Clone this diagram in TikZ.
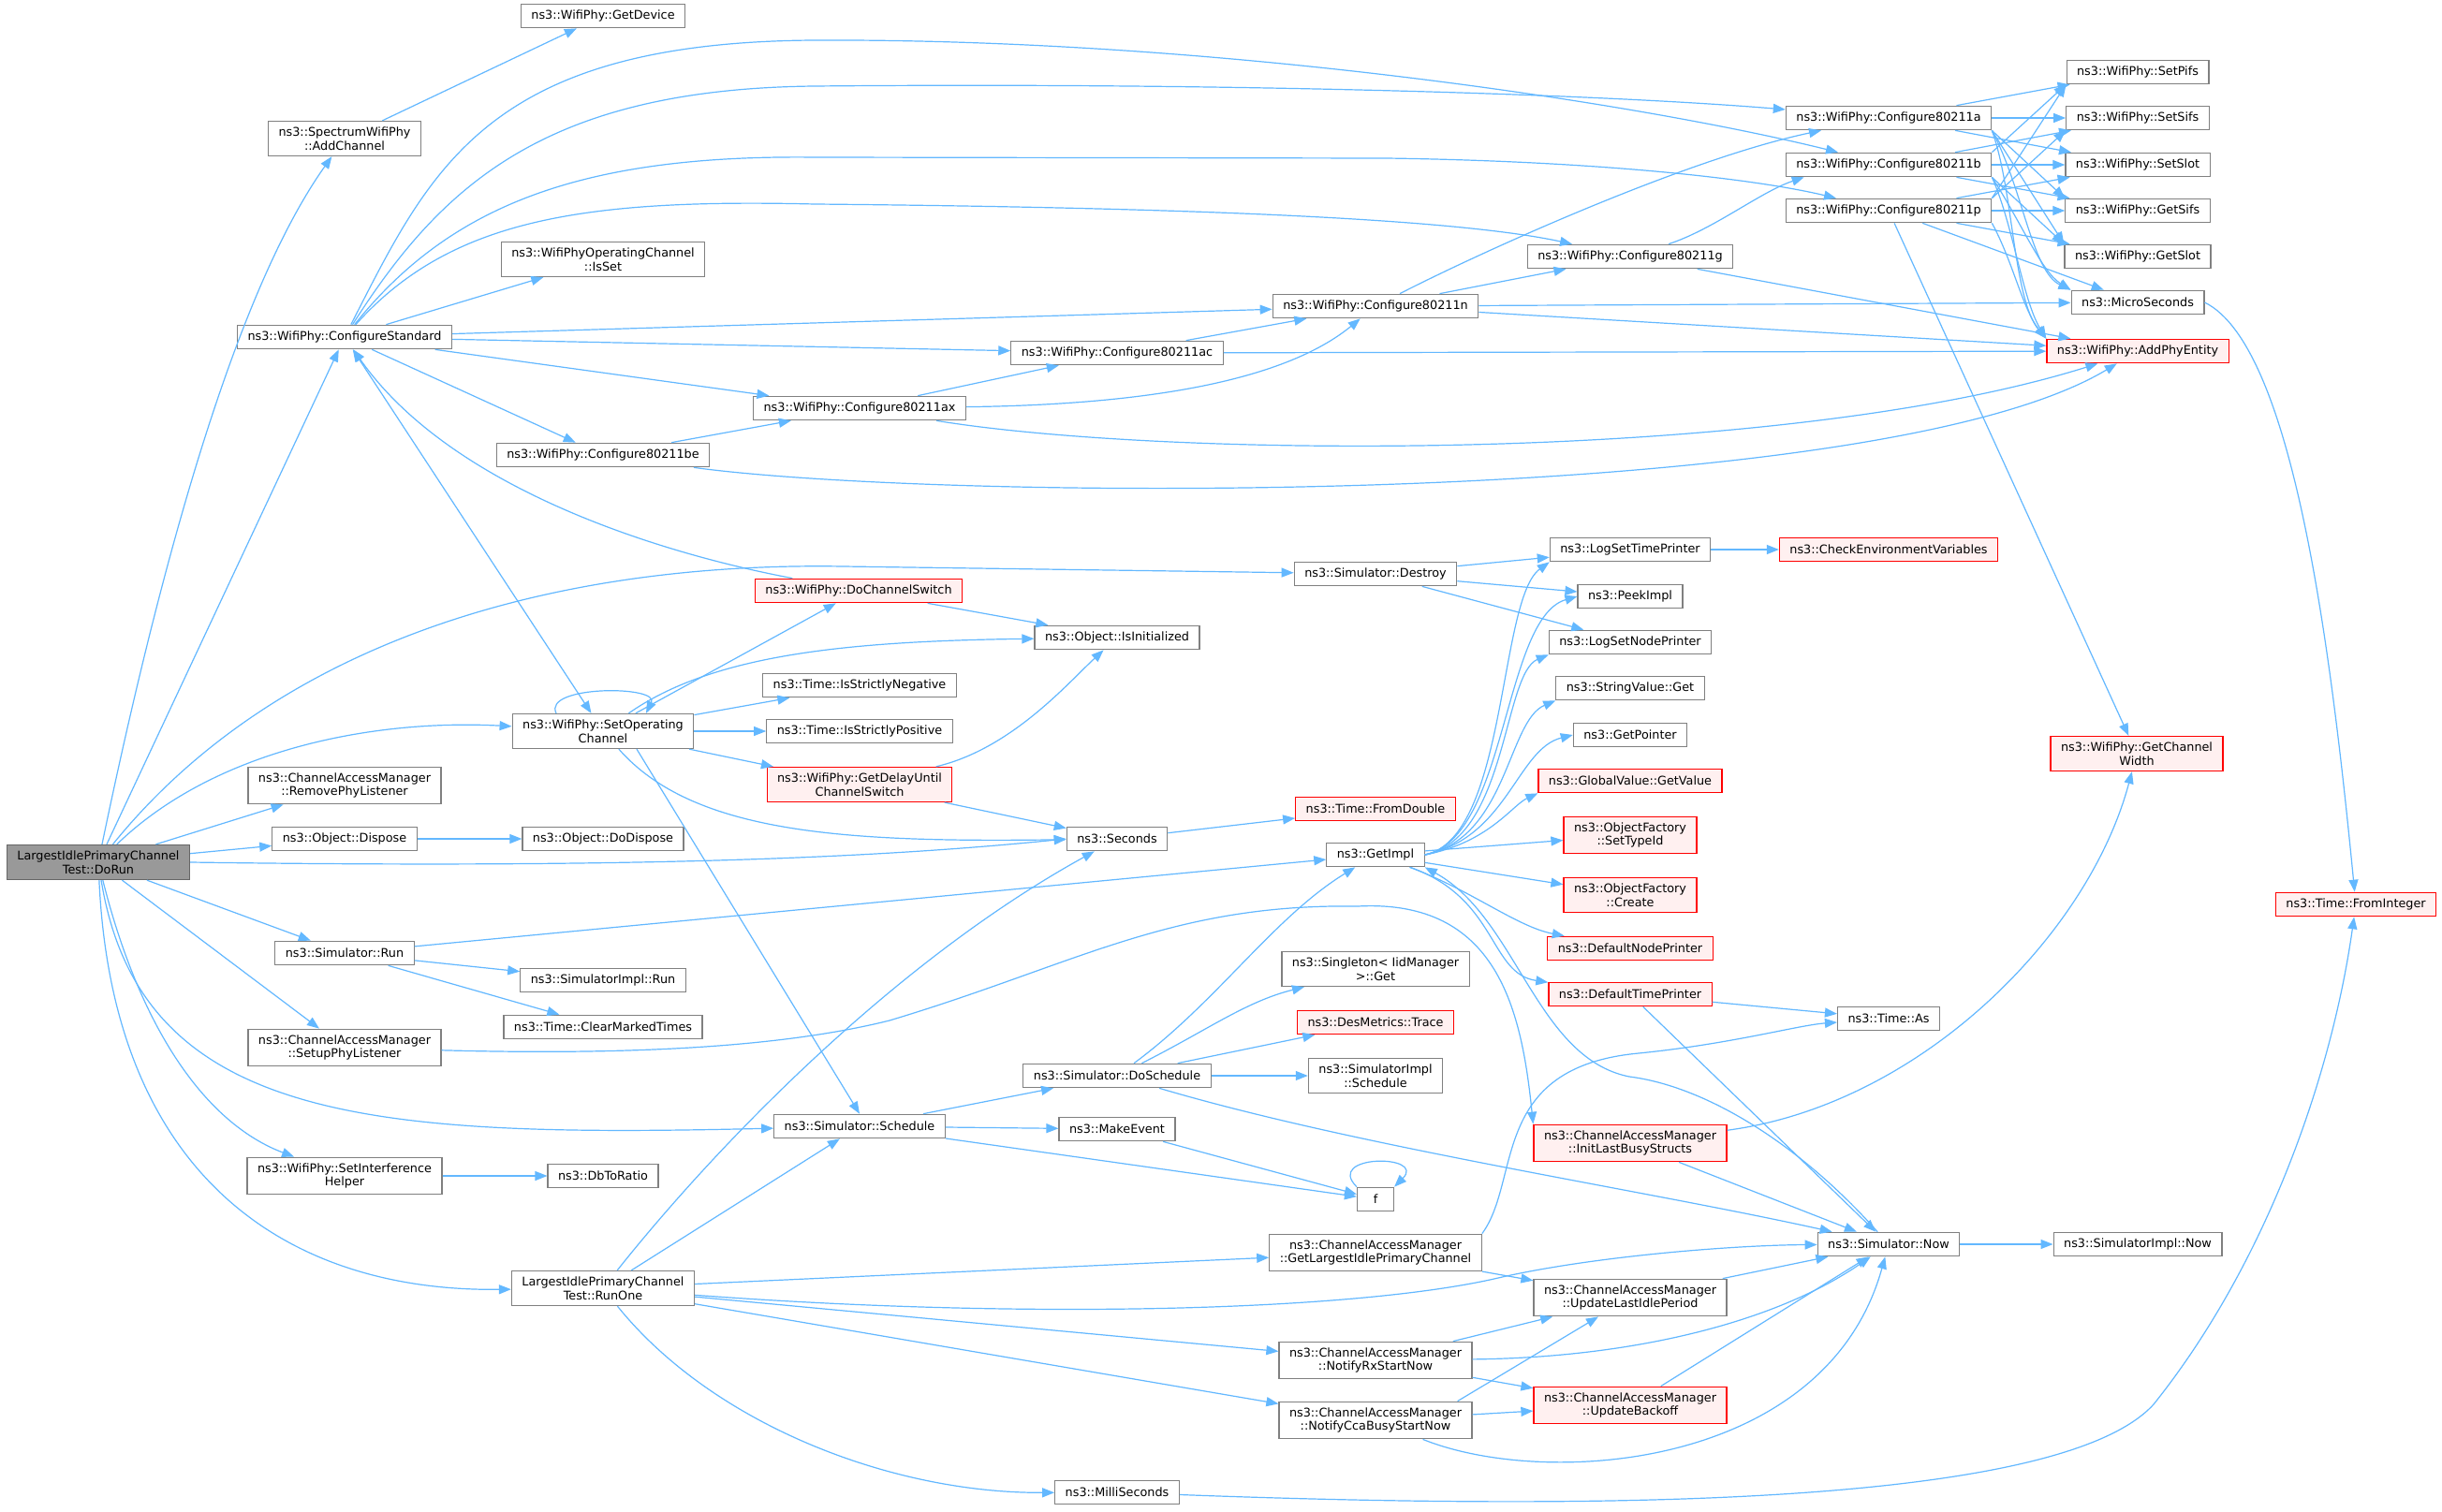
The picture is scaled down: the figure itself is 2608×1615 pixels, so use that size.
\documentclass[tikz,border=0pt]{standalone}
\usepackage{fontspec}
\newfontfamily\dxfont{DejaVu Sans}
\usetikzlibrary{arrows.meta}
\definecolor{callblue}{HTML}{63B8FF}
\definecolor{fnline}{HTML}{808080}
\definecolor{redfill}{HTML}{FFF0F0}
\definecolor{rootfill}{HTML}{999999}
\definecolor{rootline}{HTML}{666666}

\begin{document}
\begin{tikzpicture}[x=0.5pt,y=-0.5pt,
	fn/.style={draw=fnline,fill=white,line width=0.6pt,font={\dxfont\fontsize{6.4}{7.4}\selectfont},align=center,inner xsep=5.5pt,inner ysep=3.1pt,minimum height=12.75pt},
	fnred/.style={fn,draw=red,fill=redfill},
	fnroot/.style={fn,draw=rootline,fill=rootfill},
	call/.style={draw=callblue,line width=0.6pt,-{Triangle[length=6.5pt,width=5pt]}},
	twoway/.style={call,{Triangle[length=6.5pt,width=5pt]}-{Triangle[length=6.5pt,width=5pt]}}]
		\fill[white] (0,0) rectangle (2608,1615);
		\useasboundingbox (0,0) rectangle (2608,1615);
		% callers on the left
		\node[fnroot] (dorun) at (105,921) {LargestIdlePrimaryChannel\\Test::DoRun};
		\node[fn] (addch) at (368,148) {ns3::SpectrumWifiPhy\\::AddChannel};
		\node[fn] (cfgstd) at (368,360) {ns3::WifiPhy::ConfigureStandard};
		\node[fn] (rmlist) at (368,839) {ns3::ChannelAccessManager\\::RemovePhyListener};
		\node[fn] (dispose) at (368,896) {ns3::Object::Dispose};
		\node[fn] (simrun) at (368,1018) {ns3::Simulator::Run};
		\node[fn] (setuplist) at (368,1119) {ns3::ChannelAccessManager\\::SetupPhyListener};
		\node[fn] (setintf) at (368,1256) {ns3::WifiPhy::SetInterference\\Helper};
		\node[fn] (getdev) at (644,17) {ns3::WifiPhy::GetDevice};
		\node[fn] (isset) at (644,277) {ns3::WifiPhyOperatingChannel\\::IsSet};
		\node[fn] (c11be) at (644,486) {ns3::WifiPhy::Configure80211be};
		\node[fn] (setop) at (644,781) {ns3::WifiPhy::SetOperating\\Channel};
		\node[fn] (dodispose) at (644,896) {ns3::Object::DoDispose};
		\node[fn] (implrun) at (644,1047) {ns3::SimulatorImpl::Run};
		\node[fn] (clrmark) at (644,1097) {ns3::Time::ClearMarkedTimes};
		\node[fn] (dbratio) at (644,1256) {ns3::DbToRatio};
		\node[fn] (runone) at (644,1376) {LargestIdlePrimaryChannel\\Test::RunOne};
		% middle
		\node[fn] (c11ax) at (918,436) {ns3::WifiPhy::Configure80211ax};
		\node[fnred] (dochsw) at (917,631) {ns3::WifiPhy::DoChannelSwitch};
		\node[fn] (isneg) at (918,732) {ns3::Time::IsStrictlyNegative};
		\node[fn] (ispos) at (918,781) {ns3::Time::IsStrictlyPositive};
		\node[fnred] (delay) at (918,838) {ns3::WifiPhy::GetDelayUntil\\ChannelSwitch};
		\node[fn] (sched) at (918,1203) {ns3::Simulator::Schedule};
		\node[fn] (c11ac) at (1193,377) {ns3::WifiPhy::Configure80211ac};
		\node[fn] (isinit) at (1193,681) {ns3::Object::IsInitialized};
		\node[fn] (seconds) at (1193,896) {ns3::Seconds};
		\node[fn] (dosched) at (1193,1149) {ns3::Simulator::DoSchedule};
		\node[fn] (mkevent) at (1193,1206) {ns3::MakeEvent};
		\node[fn] (millisec) at (1193,1594) {ns3::MilliSeconds};
		\node[fn] (c11n) at (1469,327) {ns3::WifiPhy::Configure80211n};
		\node[fn] (destroy) at (1469,613) {ns3::Simulator::Destroy};
		\node[fnred] (fromdbl) at (1469,864) {ns3::Time::FromDouble};
		\node[fn] (getimpl) at (1469,913) {ns3::GetImpl};
		\node[fn] (singleton) at (1469,1035) {ns3::Singleton< IidManager\\>::Get};
		\node[fnred] (trace) at (1469,1092) {ns3::DesMetrics::Trace};
		\node[fn] (implsched) at (1469,1149) {ns3::SimulatorImpl\\::Schedule};
		\node[fn,minimum width=19.5pt] (fcall) at (1469,1281) {f};
		\node[fn] (largest) at (1469,1338) {ns3::ChannelAccessManager\\::GetLargestIdlePrimaryChannel};
		\node[fn] (notifyrx) at (1469,1453) {ns3::ChannelAccessManager\\::NotifyRxStartNow};
		\node[fn] (notifycca) at (1469,1517) {ns3::ChannelAccessManager\\::NotifyCcaBusyStartNow};
		% right
		\node[fn] (c11g) at (1741,274) {ns3::WifiPhy::Configure80211g};
		\node[fn] (logtime) at (1741,587) {ns3::LogSetTimePrinter};
		\node[fn] (peek) at (1741,637) {ns3::PeekImpl};
		\node[fn] (lognode) at (1741,686) {ns3::LogSetNodePrinter};
		\node[fn] (strget) at (1741,735) {ns3::StringValue::Get};
		\node[fn] (getptr) at (1741,785) {ns3::GetPointer};
		\node[fnred] (globval) at (1741,834) {ns3::GlobalValue::GetValue};
		\node[fnred] (settype) at (1741,892) {ns3::ObjectFactory\\::SetTypeId};
		\node[fnred] (create) at (1741,956) {ns3::ObjectFactory\\::Create};
		\node[fnred] (defnode) at (1741,1013) {ns3::DefaultNodePrinter};
		\node[fnred] (deftime) at (1741,1062) {ns3::DefaultTimePrinter};
		\node[fnred] (initbusy) at (1741,1221) {ns3::ChannelAccessManager\\::InitLastBusyStructs};
		\node[fn] (updidle) at (1741,1386) {ns3::ChannelAccessManager\\::UpdateLastIdlePeriod};
		\node[fnred] (updbackoff) at (1741,1501) {ns3::ChannelAccessManager\\::UpdateBackoff};
		\node[fn] (c11a) at (2017,126) {ns3::WifiPhy::Configure80211a};
		\node[fn] (c11b) at (2017,176) {ns3::WifiPhy::Configure80211b};
		\node[fn] (c11p) at (2017,225) {ns3::WifiPhy::Configure80211p};
		\node[fnred] (checkenv) at (2017,587) {ns3::CheckEnvironmentVariables};
		\node[fn] (timeas) at (2017,1088) {ns3::Time::As};
		\node[fn] (simnow) at (2017,1329) {ns3::Simulator::Now};
		\node[fn] (setpifs) at (2283,77) {ns3::WifiPhy::SetPifs};
		\node[fn] (setsifs) at (2283,126) {ns3::WifiPhy::SetSifs};
		\node[fn] (setslot) at (2283,176) {ns3::WifiPhy::SetSlot};
		\node[fn] (getsifs) at (2283,225) {ns3::WifiPhy::GetSifs};
		\node[fn] (getslot) at (2283,274) {ns3::WifiPhy::GetSlot};
		\node[fn] (microsec) at (2283,323) {ns3::MicroSeconds};
		\node[fnred] (addphy) at (2283,375) {ns3::WifiPhy::AddPhyEntity};
		\node[fnred] (chwidth) at (2282,805) {ns3::WifiPhy::GetChannel\\Width};
		\node[fn] (implnow) at (2283,1329) {ns3::SimulatorImpl::Now};
		\node[fnred] (fromint) at (2516,966) {ns3::Time::FromInteger};

		% calls from DoRun
		\draw[call] (dorun) .. controls (180,560) and (260,300) .. (addch);
		\draw[call] (dorun) -- (cfgstd);
		\draw[call] (dorun) .. controls (300,680) and (600,600) .. (900,605) -- (destroy);
		\draw[call] (dorun) .. controls (230,800) and (400,768) .. (setop);
		\draw[call] (dorun) -- (rmlist);
		\draw[call] (dorun) -- (dispose);
		\draw[call] (dorun.east) .. controls (700,928) and (950,915) .. (seconds.west);
		\draw[call] (dorun) -- (simrun);
		\draw[call] (dorun) -- (setuplist);
		\draw[call] (dorun) .. controls (150,1200) and (400,1215) .. (sched);
		\draw[call] (dorun) .. controls (150,1100) and (220,1200) .. (setintf);
		\draw[call] (dorun) .. controls (120,1250) and (300,1380) .. (runone);
		\draw[call] (addch) -- (getdev);
		% ConfigureStandard
		\draw[call] (cfgstd) .. controls (470,200) and (580,95) .. (870,92) .. controls (1300,88) and (1700,100) .. (c11a);
		\draw[call] (cfgstd) .. controls (460,180) and (520,45) .. (870,43) .. controls (1300,41) and (1750,110) .. (c11b);
		\draw[call] (cfgstd) .. controls (480,220) and (620,165) .. (870,168) -- (1480,169) .. controls (1700,172) and (1870,190) .. (c11p);
		\draw[call] (cfgstd) .. controls (480,235) and (620,212) .. (870,218) .. controls (1300,222) and (1560,235) .. (c11g);
		\draw[call] (cfgstd) -- (isset);
		\draw[call] (cfgstd) -- (c11n);
		\draw[call] (cfgstd) -- (c11ac);
		\draw[call] (cfgstd) -- (c11ax);
		\draw[call] (cfgstd) -- (c11be);
		\draw[twoway] (cfgstd) -- (setop);
		\draw[call] (dochsw) .. controls (700,590) and (480,520) .. (cfgstd);
		% SetOperatingChannel
		\draw[call] ([xshift=-25pt]setop.north) .. controls +(-15,-30) and +(15,-30) .. ([xshift=23pt]setop.north);
		\draw[call] (setop) -- (dochsw);
		\draw[call] (setop) .. controls (760,700) and (900,685) .. (isinit);
		\draw[call] (setop) -- (isneg);
		\draw[call] (setop) -- (ispos);
		\draw[call] (setop) -- (delay);
		\draw[call] (setop) .. controls (740,890) and (900,900) .. (seconds);
		\draw[call] ([xshift=18pt]setop.south) -- (sched.north);
		\draw[call] (dochsw) -- (isinit);
		\draw[call] (delay) .. controls (1080,800) and (1140,730) .. (isinit);
		\draw[call] (delay) -- (seconds);
		\draw[call] (seconds) -- (fromdbl);
		% Destroy and GetImpl
		\draw[call] (destroy) -- (logtime);
		\draw[call] (destroy) -- (peek);
		\draw[call] (destroy) -- (lognode);
		\draw[call] (logtime) -- (checkenv);
		\draw[call] (getimpl.east) .. controls (1610,895) and (1600,640) .. (logtime.south west);
		\draw[call] (getimpl.east) .. controls (1610,895) and (1605,660) .. (peek.west);
		\draw[call] (getimpl.east) .. controls (1610,895) and (1605,720) .. (lognode.south west);
		\draw[call] (getimpl.east) .. controls (1610,895) and (1610,770) .. (strget.south west);
		\draw[call] (getimpl.east) .. controls (1610,895) and (1620,800) .. (getptr.west);
		\draw[call] (getimpl.east) .. controls (1590,900) and (1615,860) .. (globval.south west);
		\draw[call] (getimpl) -- (settype);
		\draw[call] (getimpl) -- (create);
		\draw[call] (getimpl) .. controls (1570,950) and (1620,990) .. (defnode);
		\draw[call] (getimpl) .. controls (1600,960) and (1590,1040) .. (deftime);
		\draw[call] (simnow) .. controls (1920,1220) and (1820,1160) .. (1740,1150) .. controls (1640,1130) and (1620,980) .. (getimpl.south east);
		% Run, Dispose, helpers
		\draw[call] (simrun) -- (getimpl);
		\draw[call] (simrun) -- (implrun);
		\draw[call] (simrun) -- (clrmark);
		\draw[call] (dispose) -- (dodispose);
		\draw[call] (setintf) -- (dbratio);
		\draw[call] (setuplist) .. controls (700,1128) and (850,1115) .. (950,1090) .. controls (1150,1030) and (1250,965) .. (1450,968) .. controls (1600,960) and (1625,1080) .. (initbusy.north west);
		% scheduling
		\draw[call] (dosched) .. controls (1300,1070) and (1360,980) .. (getimpl);
		\draw[call] (dosched) .. controls (1290,1100) and (1330,1070) .. (singleton);
		\draw[call] (dosched) -- (trace);
		\draw[call] (dosched) -- (implsched);
		\draw[call] (dosched) .. controls (1450,1225) and (1750,1270) .. (simnow);
		\draw[call] (sched) -- (dosched);
		\draw[call] (sched) -- (mkevent);
		\draw[call] (sched) -- (fcall);
		\draw[call] (mkevent) -- (fcall);
		\draw[call] (fcall.north west) .. controls +(-35,-35) and +(35,-35) .. (fcall.north east);
		% RunOne
		\draw[call] (runone) .. controls (760,1230) and (950,1030) .. (seconds);
		\draw[call] (runone) -- (sched);
		\draw[call] (runone) -- (largest);
		\draw[call] (runone) .. controls (1100,1410) and (1450,1400) .. (1600,1365) .. controls (1700,1342) and (1850,1330) .. (simnow);
		\draw[call] (runone) -- (notifyrx);
		\draw[call] (runone) -- (notifycca);
		\draw[call] (runone) .. controls (760,1520) and (950,1595) .. (millisec);
		\draw[call] (millisec) .. controls (1700,1613) and (2200,1610) .. (2300,1500) .. controls (2420,1350) and (2490,1150) .. (fromint);
		\draw[call] (microsec.east) .. controls (2450,370) and (2490,700) .. (fromint);
		% ChannelAccessManager
		\draw[call] (largest) -- (updidle);
		\draw[call] (largest.north east) .. controls (1625,1260) and (1590,1140) .. (1750,1125) .. controls (1850,1115) and (1920,1095) .. (timeas);
		\draw[call] (notifyrx) -- (updidle);
		\draw[call] (notifyrx) -- (updbackoff);
		\draw[call] (notifyrx) .. controls (1750,1450) and (1900,1410) .. (simnow);
		\draw[call] ([xshift=-8pt]notifycca.north east) -- (updidle);
		\draw[call] (notifycca) -- (updbackoff);
		\draw[call] (notifycca) .. controls (1650,1590) and (1950,1570) .. (simnow);
		\draw[call] (updidle) -- (simnow);
		\draw[call] (updbackoff) -- (simnow);
		\draw[call] (initbusy) -- (simnow);
		\draw[call] (initbusy) .. controls (2050,1180) and (2230,1000) .. (chwidth);
		\draw[call] (deftime) -- (timeas);
		\draw[call] (deftime) -- (simnow);
		\draw[call] (simnow) -- (implnow);
		% Configure80211x
		\draw[call] (c11be) -- (c11ax);
		\draw[call] (c11be) .. controls (1000,535) and (2000,545) .. (addphy);
		\draw[call] (c11ax) -- (c11ac);
		\draw[call] (c11ax) .. controls (1250,432) and (1380,400) .. (c11n);
		\draw[call] (c11ax) .. controls (1250,490) and (1900,495) .. (addphy);
		\draw[call] (c11ac) -- (c11n);
		\draw[call] (c11ac) -- (addphy);
		\draw[call] (c11n) .. controls (1580,270) and (1800,170) .. ([xshift=-36pt]c11a.south);
		\draw[call] (c11n) -- (c11g);
		\draw[call] (c11n) -- (microsec);
		\draw[call] (c11n) -- (addphy);
		\draw[call] (c11g) .. controls (1830,245) and (1880,205) .. ([xshift=10pt]c11b.south west);
		\draw[call] (c11g) -- (addphy);
		\draw[call] (c11a) -- (setpifs);
		\draw[call] (c11a) -- (setsifs);
		\draw[call] (c11a) -- (setslot);
		\draw[call] (c11a.south east) -- (getsifs.north west);
		\draw[call] (c11a.south east) -- (getslot.north west);
		\draw[call] (c11a.south east) .. controls (2160,200) and (2170,290) .. (microsec.north west);
		\draw[call] (c11a.south east) .. controls (2150,200) and (2150,320) .. (addphy.north west);
		\draw[call] (c11b.north east) -- (setpifs.south west);
		\draw[call] (c11b) -- (setsifs);
		\draw[call] (c11b) -- (setslot);
		\draw[call] (c11b) -- (getsifs);
		\draw[call] (c11b.south east) -- (getslot.north west);
		\draw[call] (c11b.south east) .. controls (2160,240) and (2180,290) .. (microsec.north west);
		\draw[call] (c11b.south east) .. controls (2150,240) and (2160,320) .. (addphy.north west);
		\draw[call] (c11p.north east) -- (setpifs.south west);
		\draw[call] (c11p.north east) -- (setsifs.south west);
		\draw[call] (c11p) -- (setslot);
		\draw[call] (c11p) -- (getsifs);
		\draw[call] (c11p) -- (getslot);
		\draw[call] (c11p) -- (microsec);
		\draw[call] (c11p.south east) .. controls (2150,280) and (2160,330) .. (addphy.north west);
		\draw[call] (c11p) -- (chwidth);
	\end{tikzpicture}
\end{document}
